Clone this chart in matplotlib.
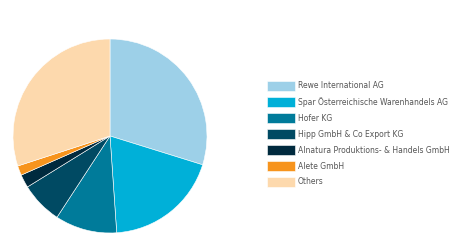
import matplotlib
matplotlib.use("Agg")
import matplotlib.pyplot as plt

labels = ["Rewe International AG", "Spar Österreichische Warenhandels AG", "Hofer KG",
          "Hipp GmbH & Co Export KG", "Alnatura Produktions- & Handels GmbH", "Alete GmbH", "Others"]
shares = [29.8, 19.1, 10.3, 7.0, 2.2, 1.6, 30.0]
colors = ["#9dd0e8", "#00b0d8", "#007b9a", "#004a63", "#002a3e", "#f7941d", "#fdd9ad"]

W, H = 465, 250
fig = plt.figure(figsize=(W/100, H/100), dpi=100)
cx, cy, r = 110, 136, 97
ax = fig.add_axes([(cx - r)/W, (H - cy - r)/H, 2*r/W, 2*r/H])
wedges, _ = ax.pie(shares, colors=colors, startangle=90, counterclock=False,
                   wedgeprops=dict(edgecolor="white", linewidth=0.4))
ax.set_xlim(-1, 1)
ax.set_ylim(-1, 1)
ax.set_aspect("equal")
ax.axis("off")

leg = fig.legend(wedges, labels, loc="upper left", bbox_to_anchor=(267/W, 1 - 81/H),
                 frameon=False, fontsize=5.5, handlelength=3.7, handleheight=1.6,
                 labelspacing=0.8, handletextpad=0.3, borderaxespad=0, borderpad=0)
for t in leg.get_texts():
    t.set_color("#555555")
for h in leg.legend_handles:
    h.set_edgecolor("white")

fig.savefig("out.png", dpi=100)
